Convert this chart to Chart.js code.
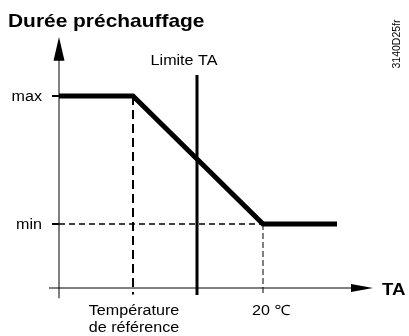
<!DOCTYPE html>
<html lang="fr">
<head>
    <meta charset="UTF-8">
    <title>Durée préchauffage</title>
    <script src="https://cdn.jsdelivr.net/npm/chart.js"></script>
    <style>
        body { margin: 0; background: #fff; }
        canvas { display: block; }
    </style>
</head>
<body>
    <canvas id="prechauffage" width="409" height="336"></canvas>

    <script>
        // Courbe de la durée de préchauffage en fonction de TA
        var curveTA = [0, 74, 204, 278];
        var curveDuree = [3, 3, 1, 1];

        // Repères sur l'axe TA
        var refTA = 74;       // Température de référence
        var limiteTA = 138;   // Limite TA
        var tempTA = 204;     // 20 °C

        // Niveaux de durée
        var niveauLabels = ['min', 'max'];
        var niveauValues = [1, 3];

        var xLabels = ['Température', 'de référence'];
        var titre = 'Durée préchauffage';

        var famille = "'Liberation Sans', Arimo, 'Noto Sans', 'DejaVu Sans', sans-serif";

        function seg(x0, y0, x1, y1) {
            return [{x: x0, y: y0}, {x: x1, y: y1}];
        }

        function ligne(data, width, dash) {
            return {
                data: data,
                showLine: true,
                borderColor: '#000',
                borderWidth: width,
                borderDash: dash || [],
                borderCapStyle: 'butt',
                borderJoinStyle: 'miter',
                pointRadius: 0,
                fill: false
            };
        }

        var datasets = [
            // axes
            ligne(seg(0, -0.16, 0, 3.6), 1),
            ligne(seg(-10, 0, 295, 0), 1),
            // repères pointillés
            ligne(seg(0, niveauValues[0], tempTA, niveauValues[0]), 1.6, [6, 4]),
            ligne(seg(refTA, niveauValues[1], refTA, -0.1), 2, [9, 5]),
            ligne(seg(tempTA, niveauValues[0], tempTA, -0.1), 1, [6, 3]),
            // limite TA
            ligne(seg(limiteTA, 3.33, limiteTA, -0.11), 3)
        ];
        // petits traits des niveaux
        niveauValues.forEach(function (v) {
            datasets.push(ligne(seg(-7, v, 0, v), 2));
        });
        // courbe principale
        datasets.push(ligne(curveTA.map(function (t, i) {
            return {x: t, y: curveDuree[i]};
        }), 5));

        // flèches et textes
        var habillage = {
            id: 'habillage',
            afterDatasetsDraw: function (chart) {
                var ctx = chart.ctx;
                var x = chart.scales.x, y = chart.scales.y;
                ctx.save();
                ctx.fillStyle = '#000';

                // flèche axe vertical
                var ax = x.getPixelForValue(0);
                ctx.beginPath();
                ctx.moveTo(ax, y.getPixelForValue(3.92));
                ctx.lineTo(ax - 5.5, y.getPixelForValue(3.55));
                ctx.lineTo(ax + 5.5, y.getPixelForValue(3.55));
                ctx.closePath();
                ctx.fill();

                // flèche axe TA
                var ay = y.getPixelForValue(0);
                ctx.beginPath();
                ctx.moveTo(x.getPixelForValue(314), ay);
                ctx.lineTo(x.getPixelForValue(292), ay - 4);
                ctx.lineTo(x.getPixelForValue(292), ay + 4);
                ctx.closePath();
                ctx.fill();

                function texte(str, px, py, font, align, sx) {
                    ctx.save();
                    ctx.translate(px, py);
                    ctx.scale(sx, 1);
                    ctx.font = font;
                    ctx.textAlign = align;
                    ctx.textBaseline = 'alphabetic';
                    ctx.fillText(str, 0, 0);
                    ctx.restore();
                }

                var f = '14px ' + famille;
                texte(titre, 8, 27, 'bold 18.2px ' + famille, 'left', 1.15);
                niveauValues.forEach(function (v, i) {
                    texte(niveauLabels[i], x.getPixelForValue(-17), y.getPixelForValue(v) + 4.5, f, 'right', 1.15);
                });
                texte('Limite TA', x.getPixelForValue(limiteTA) - 13, y.getPixelForValue(3.33) - 10, f, 'center', 1.15);
                texte(xLabels[0], x.getPixelForValue(refTA) + 1, 315, f, 'center', 1.15);
                texte(xLabels[1], x.getPixelForValue(refTA) + 1, 332, f, 'center', 1.15);
                texte('20 \u2103', x.getPixelForValue(tempTA) - 11, 315, f, 'left', 1.15);
                texte('TA', x.getPixelForValue(323), ay + 7, 'bold 17px ' + famille, 'left', 1.1);

                // référence du schéma, verticale
                ctx.save();
                ctx.translate(400, 44);
                ctx.rotate(-Math.PI / 2);
                ctx.font = '10.5px ' + famille;
                ctx.textAlign = 'center';
                ctx.textBaseline = 'alphabetic';
                ctx.fillText('3140D25fr', 0, 0);
                ctx.restore();

                ctx.restore();
            }
        };

        new Chart(document.getElementById('prechauffage'), {
            type: 'scatter',
            data: { datasets: datasets },
            options: {
                responsive: false,
                animation: false,
                events: [],
                layout: { padding: { left: 49, right: 36, top: 32, bottom: 32 } },
                plugins: {
                    legend: { display: false },
                    tooltip: { enabled: false },
                    title: { display: false }
                },
                scales: {
                    x: { type: 'linear', display: false, min: -10, max: 314 },
                    y: { type: 'linear', display: false, min: -0.25, max: 4 }
                }
            },
            plugins: [habillage]
        });
    </script>
</body>
</html>
